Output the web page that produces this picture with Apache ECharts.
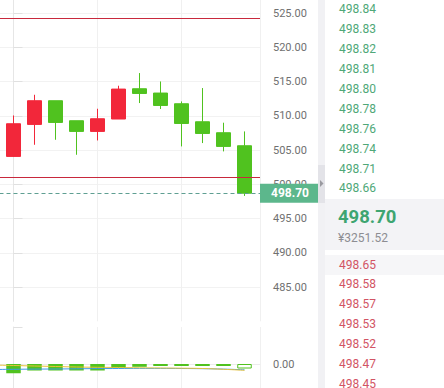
<!DOCTYPE html>
<html><head><meta charset="utf-8">
<script src="https://cdn.jsdelivr.net/npm/echarts@6/dist/echarts.min.js"></script>
<style>html,body{margin:0;padding:0;background:#fff}#c{width:444px;height:388px}</style>
</head><body><div id="c"></div>
<script>
// ---- data ----
const candleIdx = [0, 1, 2, 3, 4, 5, 6, 7, 8, 9, 10, 11];
const opens  = [504.07, 508.74, 512.20, 509.28, 507.72, 509.53, 513.95, 513.32, 511.76, 509.13, 507.53, 505.63];
const closes = [508.84, 512.20, 509.03, 507.72, 509.57, 513.90, 513.26, 511.51, 508.88, 507.42, 505.53, 498.70];
const lows   = [504.00, 505.77, 506.50, 504.31, 506.40, 509.53, 511.86, 510.99, 505.53, 506.02, 504.80, 498.30];
const highs  = [510.05, 513.07, 512.20, 509.28, 511.03, 514.39, 516.24, 515.01, 512.10, 514.05, 508.99, 507.72];
const lastPrice = 498.70;
const upperLevel = 524.27;
const lowerLevel = 501.10;
const macdHist = [-0.093, -0.065, -0.065, -0.065, -0.065, -0.042, -0.028, -0.015, -0.015, -0.015, -0.015, -0.045];
const lineIdx = [-1, 0, 1, 2, 3, 4, 5, 6, 7, 8, 9, 10, 11];
const difLine = [-0.010, -0.015, -0.020, -0.025, -0.030, -0.033, -0.035, -0.038, -0.040, -0.042, -0.045, -0.053, -0.063];
const deaLine = [-0.055, -0.053, -0.051, -0.050, -0.048, -0.046, -0.045, -0.044, -0.044, -0.045, -0.047, -0.051, -0.058];
const askPrices = ['498.84', '498.83', '498.82', '498.81', '498.80', '498.78', '498.76', '498.74', '498.71', '498.66'];
const bidPrices = ['498.65', '498.58', '498.57', '498.53', '498.52', '498.47', '498.45'];
const lastPriceText = '498.70';
const lastPriceCny = '¥3251.52';

// ---- styles ----
const UP = '#f2273a', DOWN = '#50c21f', LEVEL = '#c8283c', DASH = '#5f9f92';
const FONT = 'Roboto';

const candleData = candleIdx.map((x, i) => [x, opens[i], closes[i], lows[i], highs[i]]);
const histData = candleIdx.map((x, i) => {
  const item = { value: [x, macdHist[i]] };
  if (i === candleIdx.length - 1) item.itemStyle = { color: '#ffffff', borderColor: DOWN, borderWidth: 1 };
  return item;
});

const graphic = [];
graphic.push({ type: 'rect', shape: { x: 318, y: 0, width: 7, height: 388 }, style: { fill: '#f1f1f4' }, z: 10 });
graphic.push({ type: 'rect', shape: { x: 318, y: 165, width: 7, height: 38 }, style: { fill: '#e3e3e8' }, z: 11 });
graphic.push({ type: 'polygon', shape: { points: [[320, 180], [323.5, 183.5], [320, 187]] }, style: { fill: '#9a9aa0' }, z: 12 });
graphic.push({ type: 'rect', shape: { x: 325, y: 0, width: 119, height: 388 }, style: { fill: '#ffffff' }, z: 10 });
graphic.push({ type: 'rect', shape: { x: 325, y: 199, width: 119, height: 51 }, style: { fill: '#f3f3f6' }, z: 11 });
graphic.push({ type: 'rect', shape: { x: 325, y: 255, width: 119, height: 20 }, style: { fill: '#f6f6f8' }, z: 11 });
askPrices.forEach((p, i) => {
  graphic.push({ type: 'text', x: 339, y: 9.3 + 19.9 * i, z: 13,
    style: { text: p, fill: '#4fa878', fontSize: 12, fontFamily: FONT, verticalAlign: 'middle' } });
});
graphic.push({ type: 'text', x: 338, y: 217, z: 13,
  style: { text: lastPriceText, fill: '#3ea571', fontSize: 18.5, fontWeight: 'bold', fontFamily: FONT, verticalAlign: 'middle' } });
graphic.push({ type: 'text', x: 338, y: 238, z: 13,
  style: { text: lastPriceCny, fill: '#8d8d92', fontSize: 12, fontFamily: FONT, verticalAlign: 'middle' } });
bidPrices.forEach((p, i) => {
  graphic.push({ type: 'text', x: 339, y: 264.5 + 19.95 * i, z: 13,
    style: { text: p, fill: '#d25464', fontSize: 12, fontFamily: FONT, verticalAlign: 'middle' } });
});

const xCommon = {
  type: 'value', min: -4, max: 11.738, interval: 4,
  axisLabel: { show: false }, axisTick: { show: false },
  splitLine: { show: true, lineStyle: { color: '#f0f0f0', width: 1 } }
};

const chart = echarts.init(document.getElementById('c'), null, { renderer: 'svg' });
chart.setOption({
  animation: false,
  backgroundColor: '#ffffff',
  textStyle: { fontFamily: FONT },
  grid: [
    { left: -70.5, top: -21.2, width: 330.5, height: 342.5, outerBoundsMode: 'none', containLabel: false },
    { left: -70.5, top: 327, width: 330.5, height: 74, outerBoundsMode: 'none', containLabel: false }
  ],
  xAxis: [
    Object.assign({ gridIndex: 0, axisLine: { show: false } }, xCommon),
    Object.assign({ gridIndex: 1, position: 'top', axisLine: { show: true, lineStyle: { color: '#ececec' } } }, xCommon)
  ],
  yAxis: [
    { gridIndex: 0, type: 'value', position: 'right', min: 480, max: 530, interval: 5,
      axisLine: { show: true, lineStyle: { color: '#e6e6e6' } },
      axisTick: { show: true, length: 9, lineStyle: { color: '#e0e0e0' } },
      axisLabel: { show: true, margin: 13, color: '#707070', fontSize: 11, fontFamily: FONT,
        showMinLabel: false, showMaxLabel: false, formatter: v => v.toFixed(2) },
      splitLine: { show: true, showMinLine: false, lineStyle: { color: '#f2f2f2' } } },
    { gridIndex: 1, type: 'value', position: 'right', min: -0.37, max: 0.37, interval: 0.37,
      axisLine: { show: true, lineStyle: { color: '#e6e6e6' } },
      axisTick: { show: true, length: 9, lineStyle: { color: '#e0e0e0' } },
      axisLabel: { show: true, margin: 13, color: '#707070', fontSize: 11, fontFamily: FONT,
        formatter: v => (Math.abs(v) < 1e-9 ? '0.00' : '') },
      splitLine: { show: false } }
  ],
  graphic: graphic,
  series: [
    { type: 'candlestick', xAxisIndex: 0, yAxisIndex: 0, data: candleData, barWidth: 14.5,
      itemStyle: { color: UP, color0: DOWN, borderColor: UP, borderColor0: DOWN, borderWidth: 1 },
      markLine: {
        silent: true, symbol: ['none', 'none'], animation: false,
        lineStyle: { color: LEVEL, type: 'solid', width: 1 },
        label: { show: false },
        data: [
          { yAxis: upperLevel, lineStyle: { color: LEVEL } },
          { yAxis: lowerLevel, lineStyle: { color: LEVEL } }
        ]
      } },
    { type: 'line', xAxisIndex: 0, yAxisIndex: 0, data: [], showSymbol: false,
      markLine: {
        silent: true, symbol: ['none', 'none'], animation: false,
        lineStyle: { color: DASH, type: [4, 3], width: 1 },
        label: { show: true, position: 'end', distance: 0, formatter: lastPrice.toFixed(2),
          backgroundColor: '#5cb78c', color: '#ffffff', fontWeight: 'bold', fontSize: 12, fontFamily: FONT,
          lineHeight: 13, padding: [3, 10, 3, 11] },
        data: [ { yAxis: lastPrice } ]
      } },
    { type: 'bar', xAxisIndex: 1, yAxisIndex: 1, data: histData, barWidth: 14.5, barMinHeight: 2,
      itemStyle: { color: DOWN } },
    { type: 'line', xAxisIndex: 1, yAxisIndex: 1, data: lineIdx.map((x, i) => [x, deaLine[i]]),
      showSymbol: false, smooth: true, lineStyle: { color: '#3d9be9', width: 1 } },
    { type: 'line', xAxisIndex: 1, yAxisIndex: 1, data: lineIdx.map((x, i) => [x, difLine[i]]),
      showSymbol: false, smooth: true, lineStyle: { color: '#e8c23c', width: 1 } }
  ]
});
</script></body></html>
